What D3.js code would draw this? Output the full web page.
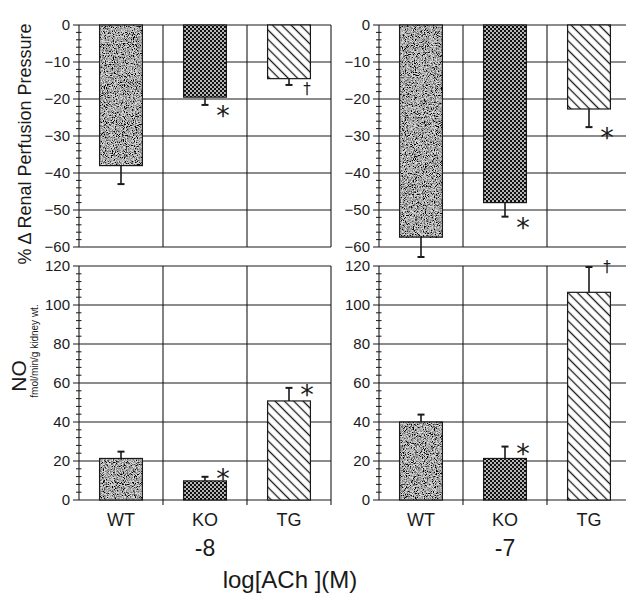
<!DOCTYPE html>
<html>
<head>
<meta charset="utf-8">
<script src="https://cdn.jsdelivr.net/npm/d3@7"></script>
<style>
  html, body { margin: 0; padding: 0; background: #fff; }
  svg { display: block; font-family: "Liberation Sans", Arial, sans-serif; }
</style>
</head>
<body>
<svg id="chart" width="626" height="595"></svg>
<script>
// ---------------- data ----------------
const categories = ["WT", "KO", "TG"];
const doseLabels = ["-8", "-7"];
const xTitle = "log[ACh ](M)";
const rppTitle = "% \u0394 Renal Perfusion Pressure";
const noTitle = "NO";
const noUnits = "fmol/min/g kidney wt.";

const rppTicks = [0, -10, -20, -30, -40, -50, -60];
const noTicks = [0, 20, 40, 60, 80, 100, 120];

// % change in renal perfusion pressure (bar value, error-bar end)
const rppDoseM8 = [-38, -19.5, -14.5];
const rppDoseM8Err = [-43, -21.6, -16.2];
const rppDoseM7 = [-57.3, -48, -22.7];
const rppDoseM7Err = [-62.7, -51.8, -27.6];
// NO release (bar value, error-bar end)
const noDoseM8 = [21.3, 9.8, 50.8];
const noDoseM8Err = [24.8, 11.9, 57.5];
const noDoseM7 = [40, 21.3, 106.5];
const noDoseM7Err = [43.8, 27.4, 119.5];
// significance marks
const rppMarksM8 = ["", "*", "\u2020"];
const rppMarksM7 = ["", "*", "*"];
const noMarksM8 = ["", "*", "*"];
const noMarksM7 = ["", "*", "\u2020"];

// ---------------- layout ----------------
const svg = d3.select("#chart");
const panelW = 252;
const panelX = [79, 379];
const topRange = [25, 247];   // 0 at top, -60 at bottom
const botRange = [500, 266];  // 0 at bottom, 120 at top
const ink = "#1a1a1a";

// ---------------- patterns ----------------
const defs = svg.append("defs");
// WT: grey stipple noise
const f = defs.append("filter").attr("id", "stipple")
  .attr("x", 0).attr("y", 0).attr("width", 1).attr("height", 1)
  .attr("filterUnits", "objectBoundingBox");
f.append("feTurbulence").attr("type", "fractalNoise").attr("baseFrequency", 1.1)
  .attr("numOctaves", 2).attr("seed", 7).attr("result", "t");
f.append("feColorMatrix").attr("in", "t").attr("type", "matrix")
  .attr("values", "0 0 0 0 0  0 0 0 0 0  0 0 0 0 0  0 0 0 3.0 -1.05").attr("result", "a");
f.append("feFlood").attr("flood-color", "#dcdcdc").attr("result", "w");
f.append("feComposite").attr("in", "a").attr("in2", "w").attr("operator", "over");

// KO: dense dark lattice
const pKO = defs.append("pattern").attr("id", "lattice")
  .attr("patternUnits", "userSpaceOnUse").attr("width", 4).attr("height", 4);
pKO.append("rect").attr("width", 4).attr("height", 4).attr("fill", "#111");
pKO.append("circle").attr("cx", 1).attr("cy", 1).attr("r", 0.95).attr("fill", "#fff");
pKO.append("circle").attr("cx", 3).attr("cy", 3).attr("r", 0.95).attr("fill", "#fff");

// TG: diagonal hatch "\"
const pTG = defs.append("pattern").attr("id", "hatch")
  .attr("patternUnits", "userSpaceOnUse").attr("width", 6.6).attr("height", 6.6)
  .attr("patternTransform", "rotate(-45)");
pTG.append("rect").attr("width", 6.6).attr("height", 6.6).attr("fill", "#fff");
pTG.append("line").attr("x1", 3.3).attr("x2", 3.3).attr("y1", -1).attr("y2", 8)
  .attr("stroke", ink).attr("stroke-width", 1.3);

const fills = { WT: "#888", KO: "url(#lattice)", TG: "url(#hatch)" };

// ---------------- panel drawer ----------------
function drawPanel(x0, yRange, domain, ticks, minorStep, vals, errs, marks, isBottom) {
  const g = svg.append("g");
  const x = d3.scaleBand().domain(categories).range([x0, x0 + panelW])
    .paddingInner(0.49).paddingOuter(0.245);
  const y = d3.scaleLinear().domain(domain).range(yRange);
  const yTop = d3.min(yRange), yBot = d3.max(yRange);

  // horizontal grid lines
  g.selectAll(".hgrid").data(ticks).join("line")
    .attr("x1", x0 - 6).attr("x2", x0 + panelW)
    .attr("y1", d => y(d)).attr("y2", d => y(d))
    .attr("stroke", ink).attr("stroke-width", 1.1);

  // minor ticks
  const lo = d3.min(domain), hi = d3.max(domain);
  const minor = d3.range(lo, hi + 0.001, minorStep).filter(v => !ticks.includes(v));
  g.selectAll(".minor").data(minor).join("line")
    .attr("x1", x0 - 3).attr("x2", x0 + 2.5)
    .attr("y1", d => y(d)).attr("y2", d => y(d))
    .attr("stroke", ink).attr("stroke-width", 1);

  // vertical lines (axis + category separators + right border)
  const vx = [x0, x0 + x.step(), x0 + 2 * x.step(), x0 + panelW];
  g.selectAll(".vgrid").data(vx).join("line")
    .attr("x1", d => d).attr("x2", d => d)
    .attr("y1", yTop).attr("y2", (d, i) => yBot + (isBottom && i > 0 ? 5 : 0))
    .attr("stroke", ink).attr("stroke-width", 1.1);

  // tick labels
  g.selectAll(".tl").data(ticks).join("text")
    .attr("x", x0 - 9).attr("y", d => y(d) + 5)
    .attr("text-anchor", "end").attr("font-size", 15).attr("fill", ink)
    .text(d => d3.format("d")(d));

  // bars
  const base = y(0);
  categories.forEach((c, i) => {
    const yv = y(vals[i]);
    const top = Math.min(base, yv), h = Math.abs(base - yv);
    const bx = x(c), bw = x.bandwidth();
    const r = g.append("rect").attr("x", bx).attr("y", top).attr("width", bw).attr("height", h);
    if (c === "WT") r.attr("fill", "#000").attr("filter", "url(#stipple)");
    else r.attr("fill", fills[c]);
    g.append("rect").attr("x", bx).attr("y", top).attr("width", bw).attr("height", h)
      .attr("fill", "none").attr("stroke", ink).attr("stroke-width", 1.2);

    // error bar
    const cx = bx + bw / 2;
    const ye = y(errs[i]);
    g.append("line").attr("x1", cx).attr("x2", cx).attr("y1", yv).attr("y2", ye)
      .attr("stroke", ink).attr("stroke-width", 1.6);
    g.append("line").attr("x1", cx - 3.5).attr("x2", cx + 3.5).attr("y1", ye).attr("y2", ye)
      .attr("stroke", ink).attr("stroke-width", 2);

    // significance mark (vertically centred near the error-bar end, clear of the bar)
    if (marks[i]) {
      const m = marks[i];
      const isStar = m === "*";
      const fs = isStar ? 27 : 15;
      const centre = isBottom ? Math.min(ye, yv - 9) : ye + 4;
      g.append("text")
        .attr("x", cx + 18)
        .attr("y", centre + (isStar ? 0.59 * fs : 0.33 * fs))
        .attr("text-anchor", "middle")
        .attr("font-family", "DejaVu Sans")
        .attr("font-size", fs)
        .attr("fill", ink)
        .text(m);
    }
  });
  return x;
}

// top panels
drawPanel(panelX[0], topRange, [0, -60], rppTicks, 2, rppDoseM8, rppDoseM8Err, rppMarksM8, false);
drawPanel(panelX[1], topRange, [0, -60], rppTicks, 2, rppDoseM7, rppDoseM7Err, rppMarksM7, false);
// bottom panels
const xb1 = drawPanel(panelX[0], botRange, [0, 120], noTicks, 4, noDoseM8, noDoseM8Err, noMarksM8, true);
const xb2 = drawPanel(panelX[1], botRange, [0, 120], noTicks, 4, noDoseM7, noDoseM7Err, noMarksM7, true);

// category labels and dose labels
[xb1, xb2].forEach((xs, k) => {
  svg.append("g").selectAll("text").data(categories).join("text")
    .attr("x", d => xs(d) + xs.bandwidth() / 2).attr("y", 526)
    .attr("text-anchor", "middle").attr("font-size", 18).attr("fill", ink)
    .text(d => d);
  svg.append("text")
    .attr("x", xs("KO") + xs.bandwidth() / 2).attr("y", 556)
    .attr("text-anchor", "middle").attr("font-size", 23).attr("fill", ink)
    .text(doseLabels[k]);
});

svg.append("text").attr("x", 290).attr("y", 588)
  .attr("text-anchor", "middle").attr("font-size", 24).attr("fill", ink)
  .text(xTitle);

// y titles
svg.append("text").attr("transform", "translate(31,144) rotate(-90)")
  .attr("text-anchor", "middle").attr("font-size", 18).attr("fill", ink)
  .text(rppTitle);
svg.append("text").attr("transform", "translate(26,376) rotate(-90)")
  .attr("text-anchor", "middle").attr("font-size", 21).attr("fill", ink)
  .text(noTitle);
svg.append("text").attr("transform", "translate(38,351) rotate(-90)")
  .attr("text-anchor", "middle").attr("font-size", 10).attr("fill", ink)
  .text(noUnits);
</script>
</body>
</html>
